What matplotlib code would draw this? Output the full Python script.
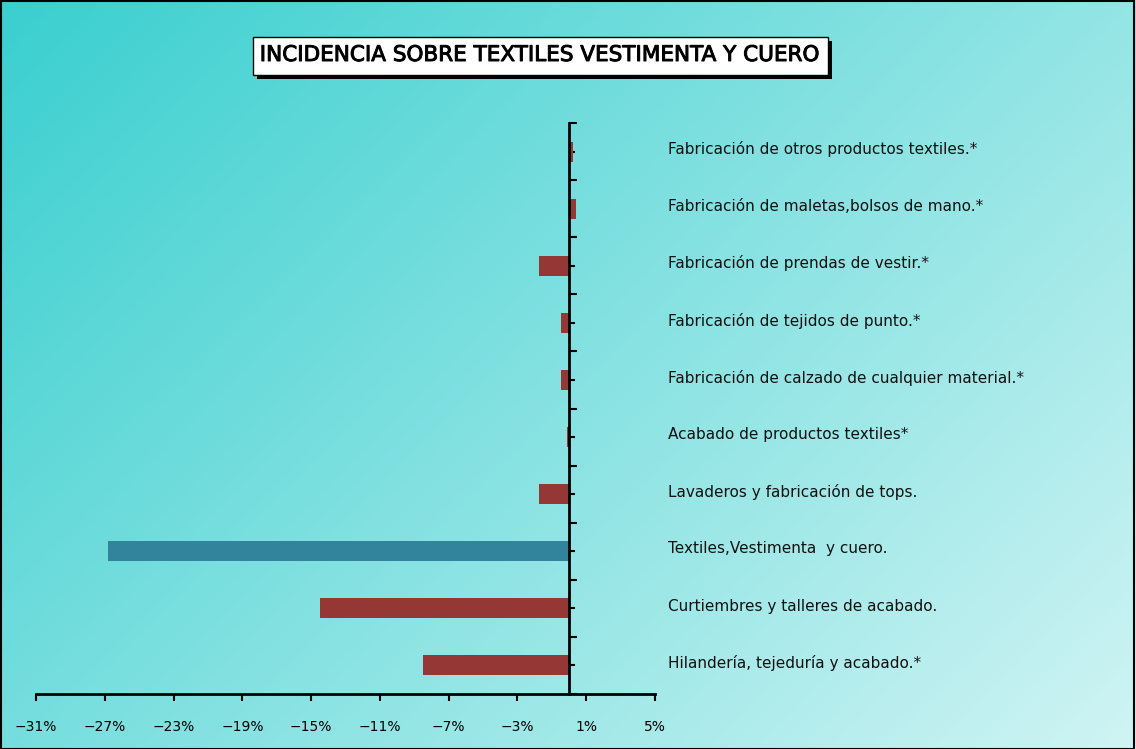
import matplotlib
matplotlib.use("Agg")
import matplotlib.pyplot as plt
import matplotlib.transforms as mtransforms
import matplotlib.patheffects as pe
from matplotlib.patches import Rectangle
from matplotlib.ticker import FuncFormatter
import numpy as np

# data (bottom to top)
categories = [
    "Hilandería, tejeduría y acabado.*",
    "Curtiembres y talleres de acabado.",
    "Textiles,Vestimenta  y cuero.",
    "Lavaderos y fabricación de tops.",
    "Acabado de productos textiles*",
    "Fabricación de calzado de cualquier material.*",
    "Fabricación de tejidos de punto.*",
    "Fabricación de prendas de vestir.*",
    "Fabricación de maletas,bolsos de mano.*",
    "Fabricación de otros productos textiles.*",
]
values = [-8.5, -14.5, -26.8, -1.75, -0.1, -0.45, -0.45, -1.75, 0.4, 0.25]
highlight = "Textiles,Vestimenta  y cuero."
xticks = [-31, -27, -23, -19, -15, -11, -7, -3, 1, 5]

red = "#953735"
blue = "#31849B"

W, H = 1136, 749
fig = plt.figure(figsize=(W / 100, H / 100), dpi=100)

# gradient background
bg = fig.add_axes([0, 0, 1, 1], zorder=-10)
gx, gy = np.meshgrid(np.linspace(0, 1, 300), np.linspace(0, 1, 200))
t = np.clip(0.6 * gx + 0.4 * gy, 0, 1)
c0 = np.array([0x3a, 0xcf, 0xcf]) / 255
c1 = np.array([0xd0, 0xf4, 0xf4]) / 255
img = c0[None, None, :] * (1 - t[..., None]) + c1[None, None, :] * t[..., None]
bg.imshow(img, aspect="auto", extent=[0, 1, 0, 1], origin="upper")
bg.set_axis_off()
fig.patches.append(Rectangle((0.0005, 0.0005), 0.998, 0.998, transform=fig.transFigure,
                             fill=False, edgecolor="black", linewidth=1.5))

# title box with shadow
def px(x, y):
    return x / W, 1 - y / H

x0, y0 = px(257, 79)
fig.patches.append(Rectangle((x0, y0), (832 - 257) / W, (79 - 41) / H,
                             transform=fig.transFigure, facecolor="black", edgecolor="none"))
x0, y0 = px(253, 75)
fig.patches.append(Rectangle((x0, y0), (828 - 253) / W, (75 - 37) / H,
                             transform=fig.transFigure, facecolor="white",
                             edgecolor="black", linewidth=1))
fig.text(540 / W, 1 - 55 / H, "INCIDENCIA SOBRE TEXTILES VESTIMENTA Y CUERO",
         ha="center", va="center", fontsize=15.5, color="black",
         path_effects=[pe.withStroke(linewidth=0.7, foreground="black")])

ax = fig.add_axes([36 / W, 1 - 694 / H, (655 - 36) / W, (694 - 123) / H])
ax.patch.set_alpha(0)

y = np.arange(len(categories))
colors = [blue if c == highlight else red for c in categories]
ax.barh(y, values, height=0.35, color=colors, zorder=2)

ax.set_xlim(-31, 5)
ax.set_ylim(-0.5, len(categories) - 0.5)
ax.set_xticks(xticks)
ax.xaxis.set_major_formatter(FuncFormatter(lambda v, p: f"{int(v)}%".replace("-", "\u2212")))
ax.tick_params(axis="x", direction="out", length=5, width=1.5, labelsize=10, pad=14)

ax.spines["left"].set_position(("data", 0))
ax.spines["left"].set_linewidth(2)
ax.spines["bottom"].set_linewidth(2)
ax.spines["right"].set_visible(False)
ax.spines["top"].set_visible(False)

ax.set_yticks(np.arange(-0.5, len(categories), 1.0))
ax.set_yticks(y, minor=True)
ax.tick_params(axis="y", which="major", direction="in", length=6, width=1.5, labelleft=False)
ax.tick_params(axis="y", which="minor", direction="in", length=4, width=1.5, labelleft=False)

trans = mtransforms.blended_transform_factory(ax.transAxes, ax.transData)
lx = (668 - 36) / (655 - 36)
for yi, c in zip(y, categories):
    ax.text(lx, yi + 0.04, c, transform=trans, ha="left", va="center", fontsize=11,
            color="#111111", clip_on=False)

fig.savefig("out.png", dpi=100)
